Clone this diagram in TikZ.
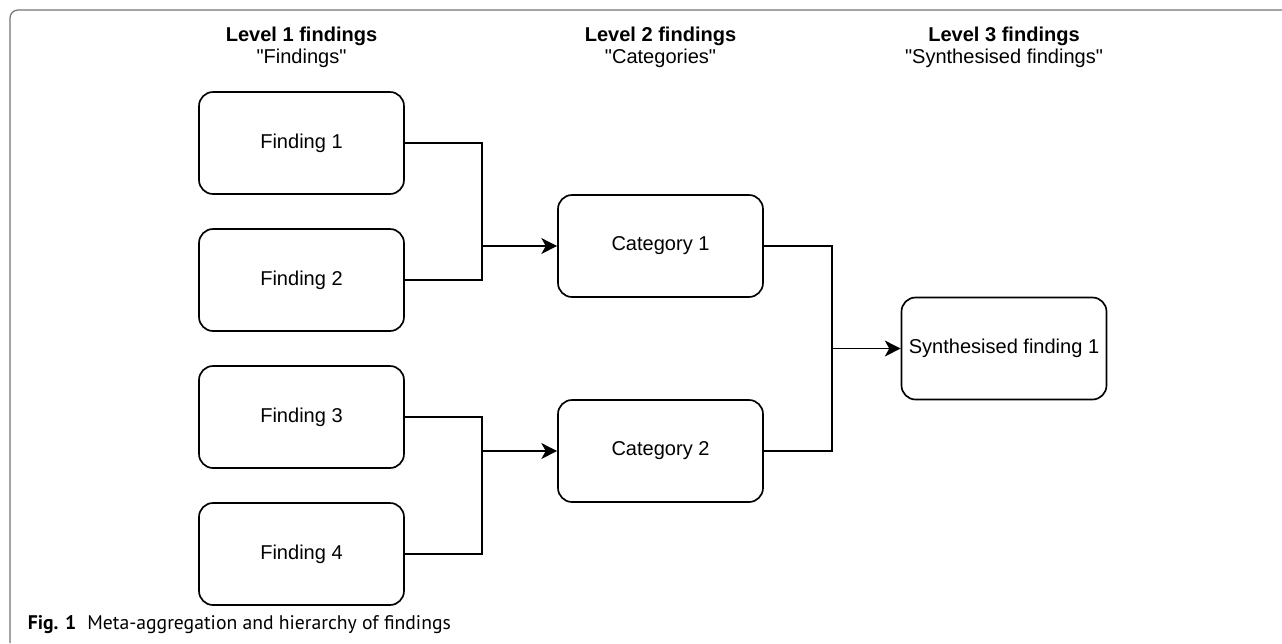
\documentclass[tikz,border=0pt]{standalone}
\usepackage{fontspec}
\setmainfont{Liberation Sans}
\newfontfamily\plainfont{Liberation Sans}
\newfontfamily\capfont{PT Sans}
\usetikzlibrary{arrows.meta}

\begin{document}
\begin{tikzpicture}[x=0.02cm, y=-0.02cm, >={Stealth[length=9pt, width=9pt, inset=2.5pt]}, line width=0.95pt,
    box/.style={draw, rounded corners=0.28cm, minimum width=4.1cm, minimum height=2.04cm, inner sep=2pt,
        font=\fontsize{11.4pt}{13pt}\selectfont},
    head/.style={anchor=base, inner sep=0pt, font=\plainfont\fontsize{11.4pt}{13pt}\selectfont}]

    % === 画布与外框 ===
    \useasboundingbox (0,0) rectangle (1282,643);
    \draw[black!55, line width=0.7pt, rounded corners=0.16cm] (10,643) -- (10,10) -- (1282,10);

    % === 栏目标题 ===
    \node[head] (H1) at (301.5,41) {\textbf{Level 1 findings}};
    \node[head] (Q1) at (301.5,63) {"Findings"};
    \node[head] (H2) at (660.5,41) {\textbf{Level 2 findings}};
    \node[head] (Q2) at (660.5,63) {"Categories"};
    \node[head] (H3) at (1004,41) {\textbf{Level 3 findings}};
    \node[head] (Q3) at (1004,63) {"Synthesised findings"};

    % === 方框 ===
    \node[box] (F1) at (301.5,143) {Finding 1};
    \node[box] (F2) at (301.5,280) {Finding 2};
    \node[box] (F3) at (301.5,417) {Finding 3};
    \node[box] (F4) at (301.5,554) {Finding 4};
    \node[box] (C1) at (660.5,246) {Category 1};
    \node[box] (C2) at (660.5,451) {Category 2};
    \node[box] (S1) at (1004,348.5) {Synthesised finding 1};

    % === 汇合点 ===
    \coordinate (J1) at (482,246);
    \coordinate (J2) at (482,451);
    \coordinate (J3) at (832,348.5);

    % === 连线 ===
    \draw (F1.east) -| (J1) |- (F2.east);
    \draw (F3.east) -| (J2) |- (F4.east);
    \draw (C1.east) -| (J3) |- (C2.east);
    \draw[->] (J1) -- (C1.west);
    \draw[->] (J2) -- (C2.west);
    \draw[->] (J3) -- (S1.west);

    % === 图注 ===
    \node[anchor=base west, inner sep=0pt, font=\capfont\fontsize{11.2pt}{12pt}\selectfont] (cap) at (27,629)
        {\textbf{Fig. 1}\hspace{0.22cm}Meta-aggregation and hierarchy of findings};

\end{tikzpicture}
\end{document}
